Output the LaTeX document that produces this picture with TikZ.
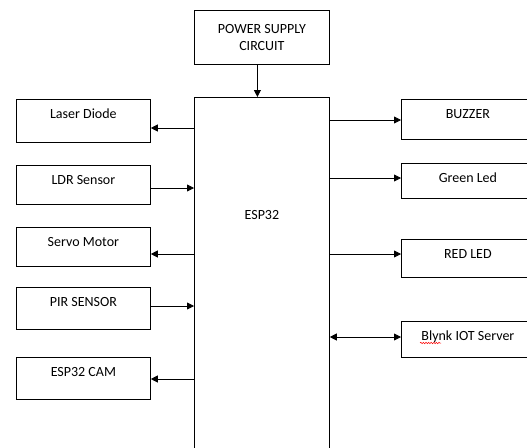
\documentclass[tikz,border=0pt]{standalone}
\usepackage{fontspec}
\setmainfont{Carlito}
\usepackage{tikz}
\usetikzlibrary{arrows.meta, calc, decorations.pathmorphing}
\tikzset{
  block/.style={draw, line width=0.8pt, inner sep=0pt, anchor=north west, minimum width=134pt, text height=19.5pt, text depth=#1},
  link/.style={-{Triangle[length=7pt, width=7pt]}, line width=0.8pt},
  both/.style={{Triangle[length=7pt, width=7pt]}-{Triangle[length=7pt, width=7pt]}, line width=0.8pt}
}

\begin{document}
\begin{tikzpicture}[x=1pt, y=-1pt, font=\fontsize{14}{17}\selectfont]
        \useasboundingbox (0,0) rectangle (527,447);
        \clip (0,0) rectangle (527,447);

        % Controller and supply
        \node[draw, line width=0.8pt, anchor=north west, minimum width=135pt, minimum height=54pt, align=center] (power) at (194,10) {POWER SUPPLY\\CIRCUIT};
        \node[block=241.4pt, minimum width=135pt, text height=121.6pt] (esp) at (194,97) {ESP32};

        % Left side
        \node[block=23.5pt] (laser) at (16, 99) {Laser Diode};
        \node[block=19.5pt] (ldr)   at (16,165) {LDR Sensor};
        \node[block=19.5pt] (servo) at (16,227) {Servo Motor};
        \node[block=22.5pt] (pir)   at (16,287) {PIR SENSOR};
        \node[block=22.5pt] (cam)   at (16,357) {ESP32 CAM};

        % Right side
        \node[block=20.5pt, minimum width=133pt] (buzzer) at (401, 99) {BUZZER};
        \node[block=15.5pt, minimum width=133pt] (green)  at (401,163) {Green Led};
        \node[block=18.5pt, minimum width=133pt] (red)    at (401,239) {RED LED};
        \node[block=16.5pt, minimum width=133pt] (blynk)  at (401,321) {Blynk IOT Server};
        \draw[red, line width=0.5pt, decorate, decoration={snake, amplitude=0.7pt, segment length=2.6pt}]
          ([xshift=19pt, yshift=-22pt]blynk.north west) -- ([xshift=40pt, yshift=-22pt]blynk.north west);

        % Links
        \draw[link] ([xshift=-4.5pt]power.south) -- ([xshift=-4.5pt]power.south |- esp.north);

        \draw[link] ([yshift=-29pt]laser.north east -| esp.west) -- ([yshift=-29pt]laser.north east);
        \draw[link] ([yshift=-23pt]ldr.north east) -- ([yshift=-23pt]ldr.north east -| esp.west);
        \draw[link] ([yshift=-27pt]servo.north east -| esp.west) -- ([yshift=-27pt]servo.north east);
        \draw[link] ([yshift=-19pt]pir.north east) -- ([yshift=-19pt]pir.north east -| esp.west);
        \draw[link] ([yshift=-22pt]cam.north east -| esp.west) -- ([yshift=-22pt]cam.north east);

        \draw[link] ([yshift=-21pt]buzzer.north west -| esp.east) -- ([yshift=-21pt]buzzer.north west);
        \draw[link] ([yshift=-15pt]green.north west -| esp.east) -- ([yshift=-15pt]green.north west);
        \draw[link] ([yshift=-15pt]red.north west -| esp.east) -- ([yshift=-15pt]red.north west);
        \draw[both] ([yshift=-16pt]blynk.north west -| esp.east) -- ([yshift=-16pt]blynk.north west);
    \end{tikzpicture}
\end{document}
